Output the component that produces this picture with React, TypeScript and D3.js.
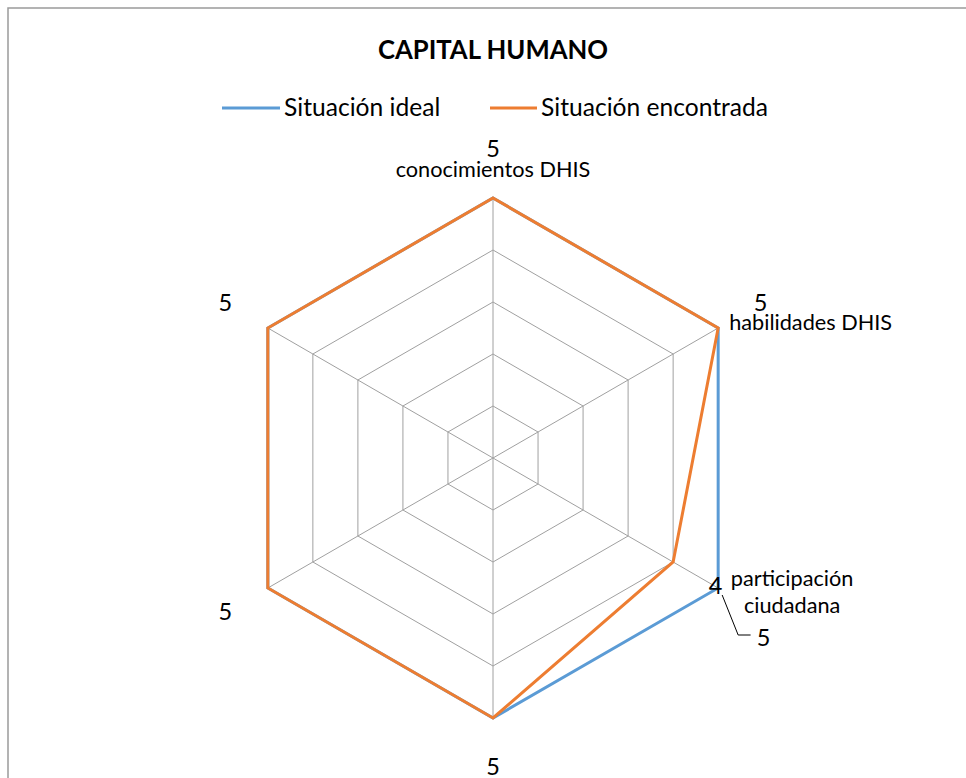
import React from "react";
import * as d3 from "d3";

const categories = ["conocimientos DHIS", "habilidades DHIS", "participación ciudadana", "", "", ""];
const idealValues = [5, 5, 5, 5, 5, 5];
const foundValues = [5, 5, 4, 5, 5, 5];
const seriesNames = ["Situación ideal", "Situación encontrada"];
const ringLevels = [1, 2, 3, 4, 5];
const title = "CAPITAL HUMANO";

const W = 966;
const H = 778;
const cx = 493;
const cy = 458;
const R = 260;
const FONT = "Lato, 'Open Sans', sans-serif";
const BLUE = "#5B9BD5";
const ORANGE = "#ED7D31";

export default function App() {
  const n = categories.length;
  const r = d3.scaleLinear().domain([0, 5]).range([0, R]);
  const angle = (i: number) => -Math.PI / 2 + (i * 2 * Math.PI) / n;
  const pt = (i: number, v: number): [number, number] => [
    cx + r(v) * Math.cos(angle(i)),
    cy + r(v) * Math.sin(angle(i)),
  ];
  const radial = d3
    .lineRadial<number>()
    .angle((_, i) => (i * 2 * Math.PI) / n)
    .radius((v) => r(v))
    .curve(d3.curveLinearClosed);

  const series = [
    { name: seriesNames[0], values: idealValues, color: BLUE },
    { name: seriesNames[1], values: foundValues, color: ORANGE },
  ];

  const labelAt = (i: number, v: number): [number, number] => {
    const rr = r(v) + 49;
    return [cx + rr * Math.cos(angle(i)), cy + rr * Math.sin(angle(i)) - 1.5];
  };

  const labels: { x: number; y: number; text: string; leader?: [number, number][] }[] = [];
  series.forEach((s, si) => {
    s.values.forEach((v, i) => {
      const other = series[1 - si].values[i];
      if (si === 0 && other === v) return;
      const [x, y] = labelAt(i, v);
      if (si === 0 && other !== v) {
        const [px, py] = pt(i, v);
        const nx = x + 3;
        const ny = y + 26;
        labels.push({
          x: nx,
          y: ny,
          text: String(v),
          leader: [
            [px + 4, py + 7],
            [px + 20, ny - 2],
            [nx - 13, ny - 2],
          ],
        });
        return;
      }
      labels.push({ x, y, text: String(v) });
    });
  });

  return (
    <svg
      width={W}
      height={H}
      style={{ position: "absolute", left: 0, top: 0, background: "#fff" }}
      fontFamily={FONT}
    >
      <rect x={8} y={8} width={1200} height={1200} fill="#fff" stroke="#9a9a9a" strokeWidth={1.5} />
      <text x={cx} y={59} textAnchor="middle" fontSize={25.7} fontWeight="bold" fill="#000">
        {title}
      </text>
      <g>
        <line x1={222} x2={280} y1={108} y2={108} stroke={BLUE} strokeWidth={3} />
        <text x={284} y={116} fontSize={24.6} fill="#000">
          {seriesNames[0]}
        </text>
        <line x1={490} x2={537} y1={108} y2={108} stroke={ORANGE} strokeWidth={3} />
        <text x={541} y={116} fontSize={24.6} fill="#000">
          {seriesNames[1]}
        </text>
      </g>
      <g transform={`translate(${cx},${cy})`}>
        {ringLevels.map((lv) => (
          <path
            key={lv}
            d={radial(categories.map(() => lv)) || ""}
            fill="none"
            stroke="#a0a0a0"
            strokeWidth={1}
          />
        ))}
        {categories.map((_, i) => {
          const [x, y] = pt(i, 5);
          return <line key={i} x1={0} y1={0} x2={x - cx} y2={y - cy} stroke="#a0a0a0" strokeWidth={1} />;
        })}
        {series.map((s) => (
          <path
            key={s.name}
            d={radial(s.values) || ""}
            fill="none"
            stroke={s.color}
            strokeWidth={3}
            strokeLinejoin="miter"
          />
        ))}
      </g>
      {categories.map((c, i) => {
        if (!c) return null;
        const [vx, vy] = pt(i, 5);
        const cosA = Math.cos(angle(i));
        if (Math.abs(cosA) < 0.01) {
          return (
            <text key={i} x={vx} y={vy - 21} textAnchor="middle" fontSize={21.7} fill="#000">
              {c}
            </text>
          );
        }
        const words = c.split(" ");
        if (i === 2) {
          return (
            <text key={i} x={vx + 74} y={vy - 2} textAnchor="middle" fontSize={21.7} fill="#000">
              <tspan x={vx + 74} dy={0}>{words[0]}</tspan>
              <tspan x={vx + 74} dy={27}>{words[1]}</tspan>
            </text>
          );
        }
        return (
          <text key={i} x={vx + 11} y={vy + 2} textAnchor="start" fontSize={21.7} fill="#000">
            {c}
          </text>
        );
      })}
      {labels.map((l, k) => (
        <g key={k}>
          {l.leader && (
            <polyline
              points={l.leader.map((p) => p.join(",")).join(" ")}
              fill="none"
              stroke="#000"
              strokeWidth={1}
            />
          )}
          <text x={l.x} y={l.y} textAnchor="middle" dominantBaseline="central" fontSize={23.5} fill="#000">
            {l.text}
          </text>
        </g>
      ))}
    </svg>
  );
}
